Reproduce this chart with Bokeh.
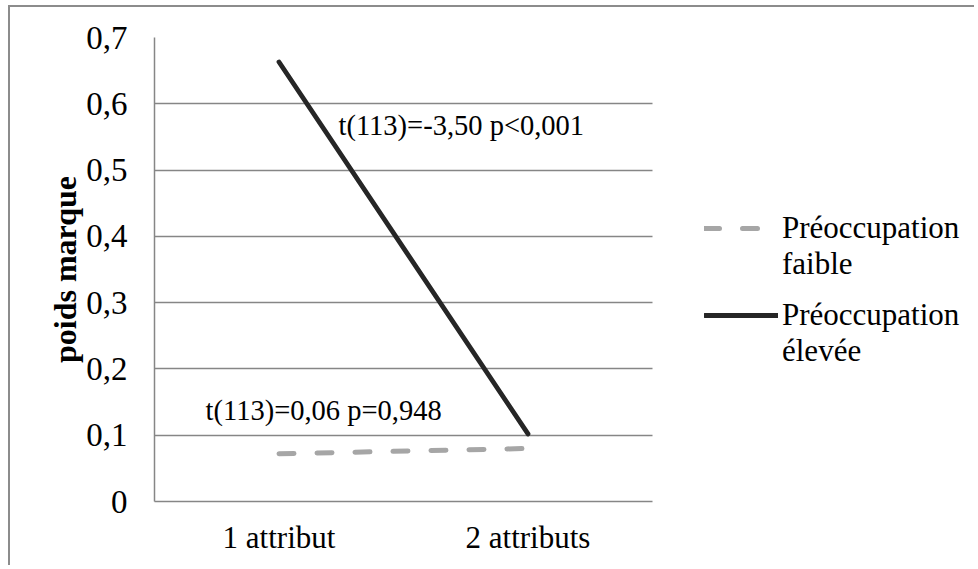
from bokeh.plotting import figure
from bokeh.models import Range1d, Legend, LegendItem, Label, FixedTicker, ColumnDataSource
from bokeh.embed import file_html
from bokeh.resources import INLINE

categories = ["1 attribut", "2 attributs"]
faible = [0.072, 0.080]
elevee = [0.663, 0.102]
y_ticks = [0, 0.1, 0.2, 0.3, 0.4, 0.5, 0.6, 0.7]
y_tick_labels = ["0", "0,1", "0,2", "0,3", "0,4", "0,5", "0,6", "0,7"]
series_names = ["Préoccupation\nfaible", "Préoccupation\nélevée"]
annotations = ["t(113)=-3,50 p<0,001", "t(113)=0,06 p=0,948"]

FONT = "Liberation Serif"
GRID = "#868686"

# category slots: each category occupies one unit, centred at i + 0.5
cat_pos = [i + 0.5 for i in range(len(categories))]
n_cat = len(categories)

W, H = 966, 560
LEFT, TOP, BOTTOM = 144, 30, 66
slot_px = 249.0
p = figure(width=W, height=H, x_range=Range1d(0, (W - LEFT) / slot_px), y_range=Range1d(0, 0.7),
           output_backend="svg", toolbar_location=None,
           min_border_left=LEFT, min_border_right=0, min_border_top=TOP, min_border_bottom=BOTTOM)
p.styles = {"margin-left": "8px", "margin-top": "5px",
            "border-left": "2px solid #8c8c8c", "border-top": "2px solid #8c8c8c"}
p.outline_line_color = None
p.background_fill_color = "white"
p.border_fill_color = "white"

src = ColumnDataSource(dict(x=cat_pos, faible=faible, elevee=elevee))
r1 = p.line("x", "faible", source=src, line_color="#a6a6a6", line_width=5,
            line_dash="15 23", line_cap="round")
r2 = p.line("x", "elevee", source=src, line_color="#262626", line_width=4.8, line_cap="round")

# y axis
p.yaxis.ticker = FixedTicker(ticks=y_ticks)
p.yaxis.major_label_overrides = {t: l for t, l in zip(y_ticks, y_tick_labels)}
p.yaxis.major_label_text_font = FONT
p.yaxis.major_label_text_font_size = "33px"
p.yaxis.major_label_text_color = "black"
p.yaxis.major_label_standoff = 27
p.yaxis.major_tick_out = 0
p.yaxis.major_tick_in = 0
p.yaxis.major_tick_line_color = None
p.yaxis.minor_tick_line_color = None
p.yaxis.axis_line_color = GRID
p.yaxis.axis_line_width = 1.5
p.yaxis.axis_label = "poids marque"
p.yaxis.axis_label_text_font = FONT
p.yaxis.axis_label_text_font_style = "bold"
p.yaxis.axis_label_text_font_size = "32px"
p.yaxis.axis_label_text_color = "black"
p.yaxis.axis_label_standoff = 0

# x axis (categories)
p.xaxis.ticker = FixedTicker(ticks=cat_pos)
p.xaxis.major_label_overrides = {pos: c for pos, c in zip(cat_pos, categories)}
p.xaxis.bounds = (0, n_cat)
p.xaxis.major_label_text_font = FONT
p.xaxis.major_label_text_font_size = "31px"
p.xaxis.major_label_text_color = "black"
p.xaxis.major_label_standoff = 18
p.xaxis.major_tick_out = 0
p.xaxis.major_tick_in = 0
p.xaxis.major_tick_line_color = None
p.xaxis.minor_tick_line_color = None
p.xaxis.axis_line_color = GRID
p.xaxis.axis_line_width = 1.5

p.xgrid.grid_line_color = None
p.ygrid.grid_line_color = GRID
p.ygrid.grid_line_width = 1.3
p.ygrid.ticker = FixedTicker(ticks=y_ticks)
g = p.ygrid[0]
if "cross_bounds" in g.properties():
    g.cross_bounds = (0, n_cat)

# annotations
p.add_layout(Label(x=0.739, y=0.567, text=annotations[0], text_font=FONT,
                   text_font_size="28.5px", text_color="black", text_baseline="alphabetic"))
p.add_layout(Label(x=0.205, y=0.138, text=annotations[1], text_font=FONT,
                   text_font_size="28.5px", text_color="black", text_baseline="alphabetic"))

# one legend per series; leading blank line keeps the glyph level with the first text line
legend_style = dict(padding=0, margin=0, spacing=0,
                    glyph_width=74, glyph_height=30, label_standoff=4,
                    label_text_font=FONT, label_text_font_size="31px", label_text_color="black",
                    border_line_color=None, background_fill_alpha=0)
for renderer, name, loc in zip([r1, r2], series_names, [(550, 219), (550, 132)]):
    lg = Legend(items=[LegendItem(label="\n" + name, renderers=[renderer])],
                location=loc, **legend_style)
    p.add_layout(lg)

open("out.html", "w").write(file_html(p, INLINE))
